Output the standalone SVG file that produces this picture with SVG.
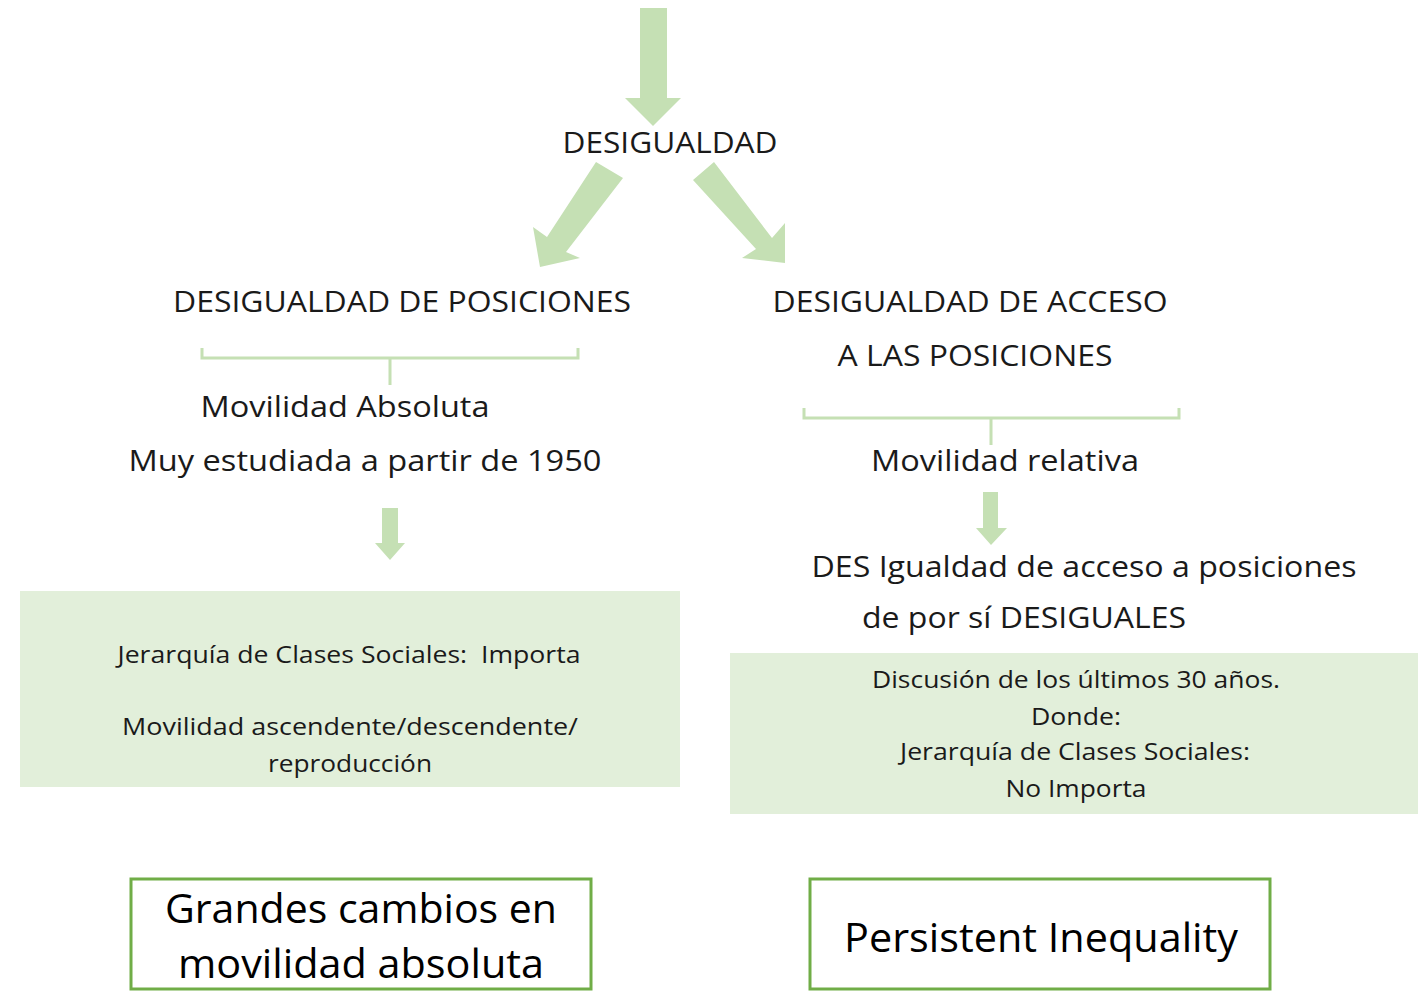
<svg xmlns="http://www.w3.org/2000/svg" width="1418" height="991" viewBox="0 0 1418 991">
<style>
text{font-family:"Open Sans","Liberation Sans",sans-serif;fill:#1a1a1a;text-anchor:middle}
.h{font-size:29px}
.m{font-size:30px}
.s{font-size:23px}
.b{font-size:41px;fill:#000}
.arrow{fill:#c5e0b4}
.br{fill:none;stroke:#c5e0b4;stroke-width:3}
.panel{fill:#e2efda}
.box{fill:#fff;stroke:#70ad47;stroke-width:3}
</style>
<rect width="1418" height="991" fill="#fff"/>
<g id="connectors">
<polygon class="arrow" points="640,8 667,8 667,98 681,98 653,126 625,98 640,98"/>
<polygon class="arrow" points="596,162 623,178 566,252 580,258 540,267 533,227 547,237"/>
<polygon class="arrow" points="693,180 714,162 772,238 785,223 785,263 742,258 756,249"/>
<polygon class="arrow" points="382,508 398,508 398,543 405,543 390,560 375,543 382,543"/>
<polygon class="arrow" points="983,492 998,492 998,528 1007,528 991,545 976,528 983,528"/>
<path class="br" d="M202,348 V358 H578 V348 M390,358 V385"/>
<path class="br" d="M804,408 V418 H1179 V408 M991,418 V445"/>
</g>
<g id="n-desigualdad"><text class="h" x="670" y="153" textLength="215" lengthAdjust="spacingAndGlyphs">DESIGUALDAD</text></g>
<g id="n-posiciones"><text class="h" x="402" y="312" textLength="458" lengthAdjust="spacingAndGlyphs">DESIGUALDAD DE POSICIONES</text></g>
<g id="n-acceso"><text class="h" x="970" y="312" textLength="395" lengthAdjust="spacingAndGlyphs">DESIGUALDAD DE ACCESO</text><text class="h" x="975" y="366" textLength="275" lengthAdjust="spacingAndGlyphs">A LAS POSICIONES</text></g>
<g id="n-absoluta"><text class="m" x="345" y="417" textLength="289" lengthAdjust="spacingAndGlyphs">Movilidad Absoluta</text><text class="m" x="365" y="471" textLength="473" lengthAdjust="spacingAndGlyphs">Muy estudiada a partir de 1950</text></g>
<g id="n-relativa"><text class="m" x="1005" y="471" textLength="268" lengthAdjust="spacingAndGlyphs">Movilidad relativa</text></g>
<g id="n-desigualdad-acceso"><text class="m" x="1084" y="577" textLength="545" lengthAdjust="spacingAndGlyphs">DES Igualdad de acceso a posiciones</text><text class="m" x="1024" y="628" textLength="324" lengthAdjust="spacingAndGlyphs">de por sí DESIGUALES</text></g>
<g id="n-panel-left"><rect class="panel" x="20" y="591" width="660" height="196"/>
<text class="s" x="349" y="663" textLength="463" lengthAdjust="spacingAndGlyphs" xml:space="preserve">Jerarquía de Clases Sociales:  Importa</text>
<text class="s" x="350" y="735" textLength="456" lengthAdjust="spacingAndGlyphs">Movilidad ascendente/descendente/</text>
<text class="s" x="350" y="772" textLength="164" lengthAdjust="spacingAndGlyphs">reproducción</text></g>
<g id="n-panel-right"><rect class="panel" x="730" y="653" width="688" height="161"/>
<text class="s" x="1076" y="688" textLength="408" lengthAdjust="spacingAndGlyphs">Discusión de los últimos 30 años.</text>
<text class="s" x="1076" y="725" textLength="90" lengthAdjust="spacingAndGlyphs">Donde:</text>
<text class="s" x="1075" y="760" textLength="350" lengthAdjust="spacingAndGlyphs">Jerarquía de Clases Sociales:</text>
<text class="s" x="1076" y="797" textLength="141" lengthAdjust="spacingAndGlyphs">No Importa</text></g>
<g id="n-grandes"><rect class="box" x="131" y="879" width="460" height="110"/>
<text class="b" x="361" y="923" textLength="392" lengthAdjust="spacingAndGlyphs">Grandes cambios en</text>
<text class="b" x="361" y="978" textLength="366" lengthAdjust="spacingAndGlyphs">movilidad absoluta</text></g>
<g id="n-persistent"><rect class="box" x="810" y="879" width="460" height="110"/>
<text class="b" x="1041" y="952" textLength="394" lengthAdjust="spacingAndGlyphs">Persistent Inequality</text></g>
</svg>
